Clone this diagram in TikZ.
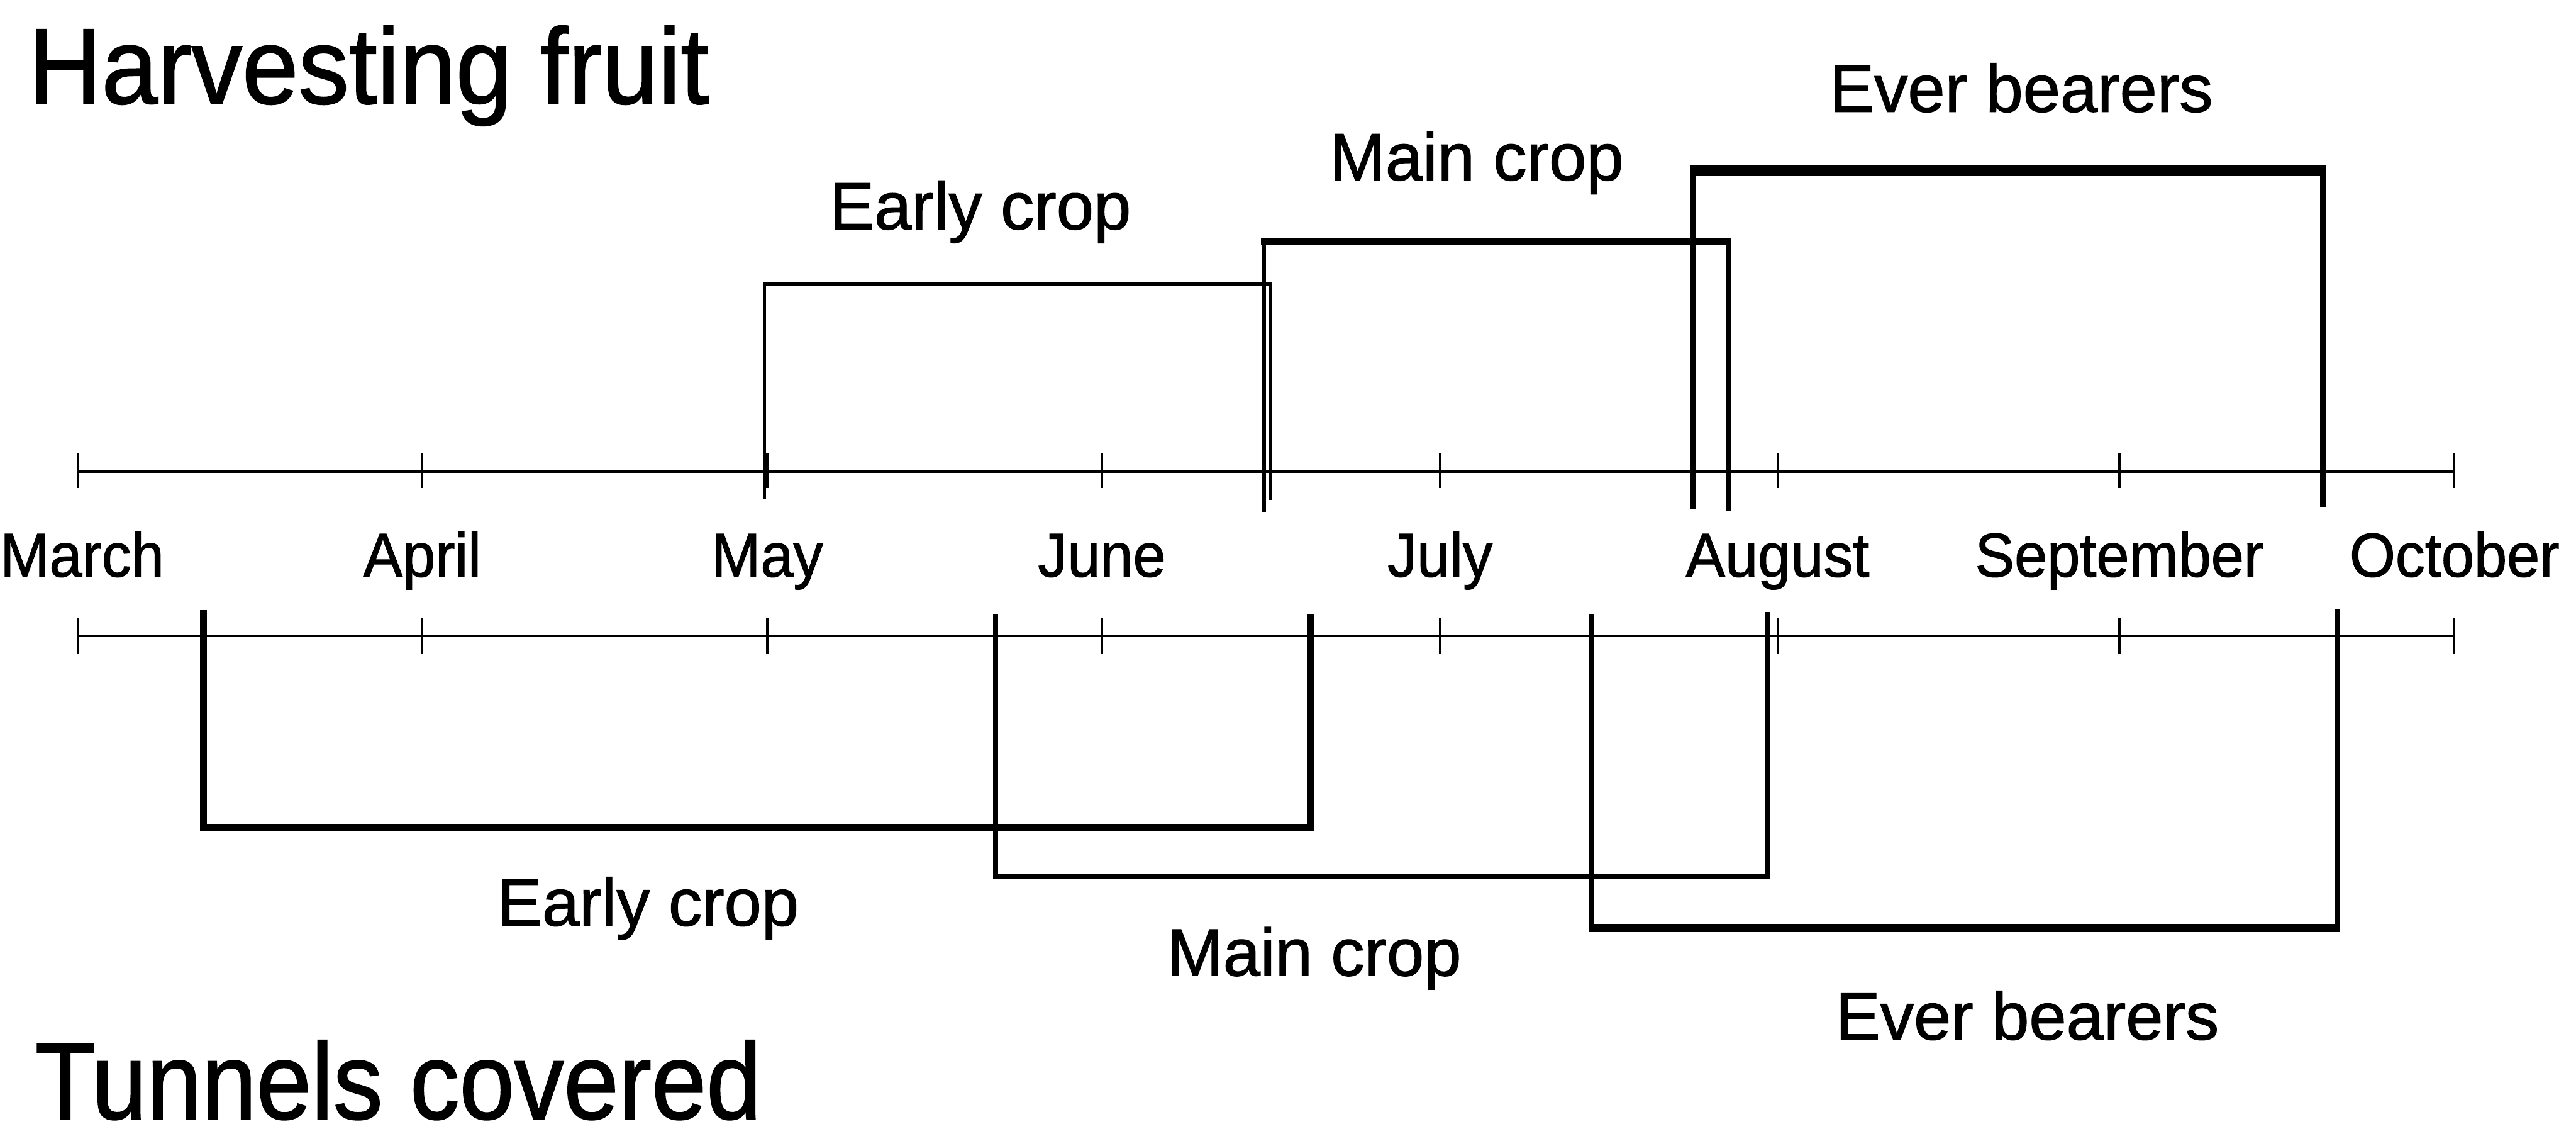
\documentclass[tikz,border=0pt]{standalone}
\usepackage{fontspec}
\setmainfont{Liberation Sans}
\newfontfamily\lblfam[FakeBold=1.2]{Liberation Sans}
\newfontfamily\monthfam[FakeStretch=0.95,FakeBold=1.2]{Liberation Sans}
\newfontfamily\headfamA[FakeStretch=0.94,FakeBold=1.2]{Liberation Sans}
\newfontfamily\headfamB[FakeStretch=0.91,FakeBold=1.2]{Liberation Sans}
\def\px{0.5691pt}
\tikzset{
  axisline/.style={line width=1.8*\px},
  tickmark/.style={line width=1.4*\px},
  monthlbl/.style={anchor=base, inner sep=0pt, font=\monthfam\fontsize{21.5pt}{24pt}\selectfont},
  croplbl/.style={anchor=base, inner sep=0pt, font=\lblfam\fontsize{23.2pt}{26pt}\selectfont},
  headlbl/.style={anchor=base west, inner sep=0pt},
}
\begin{document}
\begin{tikzpicture}[x=0.02cm, y=-0.02cm, line cap=butt, line join=miter]
\useasboundingbox (0,0) rectangle (1568,690);

% titles
\node[headlbl, font=\headfamA\fontsize{37.3pt}{40pt}\selectfont] (htitle) at (17,63) {Harvesting fruit};
\node[headlbl, font=\headfamB\fontsize{37.6pt}{40pt}\selectfont] (ttitle) at (21,681) {Tunnels covered};

% the two month axes
\coordinate (topL) at (47.7,287);
\coordinate (topR) at (1493.7,287);
\coordinate (botL) at (47.7,387);
\coordinate (botR) at (1493.7,387);
\draw[axisline] (topL) -- (topR);
\draw[axisline] (botL) -- (botR);
\foreach \x in {47.7,257,467,670.7,876.5,1082,1290,1493.7}{
  \draw[tickmark] (\x,276) -- (\x,297);
  \draw[tickmark] (\x,376) -- (\x,398);
}

% month names
\node[monthlbl] (mMar) at (50,351) {March};
\node[monthlbl] (mApr) at (257,351) {April};
\node[monthlbl] (mMay) at (467,351) {May};
\node[monthlbl] (mJun) at (670.7,351) {June};
\node[monthlbl] (mJul) at (876.5,351) {July};
\node[monthlbl] (mAug) at (1082,351) {August};
\node[monthlbl] (mSep) at (1290,351) {September};
\node[monthlbl] (mOct) at (1494,351) {October};

% harvesting periods (above the upper axis)
\draw[line width=1.9*\px] (465.3,304) -- (465.3,173) -- (773.5,173) -- (773.5,304.5);
\draw[line width=2.6*\px] (769.4,311.5) -- (769.4,147);
\draw[line width=2.6*\px] (1052,311) -- (1052,147);
\draw[line width=4.6*\px] (767.5,147) -- (1053.3,147);
\draw[line width=3.4*\px] (1030.5,310) -- (1030.5,104);
\draw[line width=3.4*\px] (1413.8,308.5) -- (1413.8,104);
\draw[line width=6.4*\px] (1028.8,104) -- (1415.5,104);

\node[croplbl] (hEarly) at (596.7,139.5) {Early crop};
\node[croplbl] (hMain) at (898.8,109.7) {Main crop};
\node[croplbl] (hEver) at (1230.3,68) {Ever bearers};

% tunnel cover periods (below the lower axis)
\draw[line width=4.2*\px] (123.9,371.5) -- (123.9,503.5);
\draw[line width=4.2*\px] (797.5,373.7) -- (797.5,503.5);
\draw[line width=4.4*\px] (121.8,503.5) -- (799.6,503.5);
\draw[line width=3.2*\px] (606,373.7) -- (606,533.5);
\draw[line width=3.2*\px] (1075.6,372.5) -- (1075.6,533.5);
\draw[line width=3.6*\px] (604.4,533.5) -- (1077.2,533.5);
\draw[line width=3.2*\px] (968.7,373.7) -- (968.7,565);
\draw[line width=3.2*\px] (1423,370.4) -- (1423,565);
\draw[line width=5*\px] (967.1,565) -- (1424.6,565);

\node[croplbl] (tEarly) at (394.5,563.4) {Early crop};
\node[croplbl] (tMain) at (800,593.8) {Main crop};
\node[croplbl] (tEver) at (1234,632.7) {Ever bearers};
\end{tikzpicture}
\end{document}
